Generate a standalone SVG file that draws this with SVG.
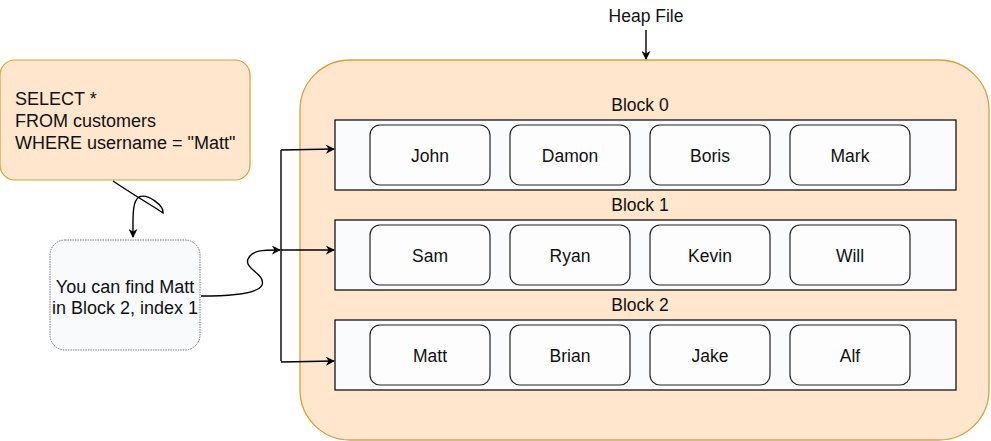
<svg xmlns="http://www.w3.org/2000/svg" width="991" height="441" viewBox="0 0 991 441">
<defs>
<style>
text{font-family:"Liberation Sans",Arial,Helvetica,sans-serif;fill:#111;}
.lbl{font-size:17.5px;text-anchor:middle;}
.big{font-size:18px;}
.block{fill:#fafbfd;stroke:#000;stroke-width:1.2;}
.rec{fill:#fdfdfd;stroke:#222;stroke-width:1.2;}
.con{fill:none;stroke:#000;stroke-width:1.4;}
</style>
<marker id="ah" viewBox="0 0 10 10" refX="9" refY="5" markerWidth="9" markerHeight="9" markerUnits="userSpaceOnUse" orient="auto">
<path d="M0,0 L10,5 L0,10 L3,5 Z" fill="#000"/>
</marker>
</defs>
<g id="heapfile">
<rect x="300" y="60" width="689" height="380" rx="50" ry="50" fill="#ffe6cc" stroke="#d6a23a" stroke-width="1.3"/>
<text class="lbl" x="646" y="22">Heap File</text>
</g>
<g id="block0">
<text class="lbl" x="640" y="111">Block 0</text>
<rect class="block" x="335" y="120" width="621" height="70"/>
</g>
<g id="block1">
<text class="lbl" x="640" y="211">Block 1</text>
<rect class="block" x="335" y="220" width="621" height="70"/>
</g>
<g id="block2">
<text class="lbl" x="640" y="311">Block 2</text>
<rect class="block" x="335" y="320" width="621" height="70"/>
</g>
<g id="john"><rect class="rec" x="370" y="125" width="120" height="60" rx="10"/><text class="lbl" x="430" y="162">John</text></g>
<g id="damon"><rect class="rec" x="510" y="125" width="120" height="60" rx="10"/><text class="lbl" x="570" y="162">Damon</text></g>
<g id="boris"><rect class="rec" x="650" y="125" width="120" height="60" rx="10"/><text class="lbl" x="710" y="162">Boris</text></g>
<g id="mark"><rect class="rec" x="790" y="125" width="120" height="60" rx="10"/><text class="lbl" x="850" y="162">Mark</text></g>
<g id="sam"><rect class="rec" x="370" y="225" width="120" height="60" rx="10"/><text class="lbl" x="430" y="262">Sam</text></g>
<g id="ryan"><rect class="rec" x="510" y="225" width="120" height="60" rx="10"/><text class="lbl" x="570" y="262">Ryan</text></g>
<g id="kevin"><rect class="rec" x="650" y="225" width="120" height="60" rx="10"/><text class="lbl" x="710" y="262">Kevin</text></g>
<g id="will"><rect class="rec" x="790" y="225" width="120" height="60" rx="10"/><text class="lbl" x="850" y="262">Will</text></g>
<g id="matt"><rect class="rec" x="370" y="325" width="120" height="60" rx="10"/><text class="lbl" x="430" y="362">Matt</text></g>
<g id="brian"><rect class="rec" x="510" y="325" width="120" height="60" rx="10"/><text class="lbl" x="570" y="362">Brian</text></g>
<g id="jake"><rect class="rec" x="650" y="325" width="120" height="60" rx="10"/><text class="lbl" x="710" y="362">Jake</text></g>
<g id="alf"><rect class="rec" x="790" y="325" width="120" height="60" rx="10"/><text class="lbl" x="850" y="362">Alf</text></g>
<g id="query">
<rect x="0" y="60" width="250" height="120" rx="15" ry="15" fill="#ffe6cc" stroke="#d6a23a" stroke-width="1.2"/>
<text class="big" x="15" y="105">SELECT *</text>
<text class="big" x="15" y="127">FROM customers</text>
<text class="big" x="15" y="149">WHERE username = "Matt"</text>
</g>
<g id="index">
<rect x="50" y="240" width="150" height="110" rx="15" ry="15" fill="#f8fafc" stroke="#777" stroke-width="1" stroke-dasharray="1.5,1"/>
<text class="big" x="125" y="293" text-anchor="middle">You can find Matt</text>
<text class="big" x="125" y="314" text-anchor="middle">in Block 2, index 1</text>
</g>
<g id="connectors">
<path class="con" d="M646,30 L646,59" marker-end="url(#ah)"/>
<path class="con" d="M113,181 C135,196 158,209 163,213 C164,206 148,193 139,197 C132,201 133,218 133,237" marker-end="url(#ah)"/>
<path class="con" d="M201,296 C230,296 258,294 262,285 C266,274 244,269 248,259 C252,250 262,250 280,250" marker-end="url(#ah)"/>
<path class="con" d="M281,150 L281,361"/>
<path class="con" d="M281,150 L334,149" marker-end="url(#ah)"/>
<path class="con" d="M281,250 L334,250" marker-end="url(#ah)"/>
<path class="con" d="M281,362 L334,361" marker-end="url(#ah)"/>
</g>
</svg>
